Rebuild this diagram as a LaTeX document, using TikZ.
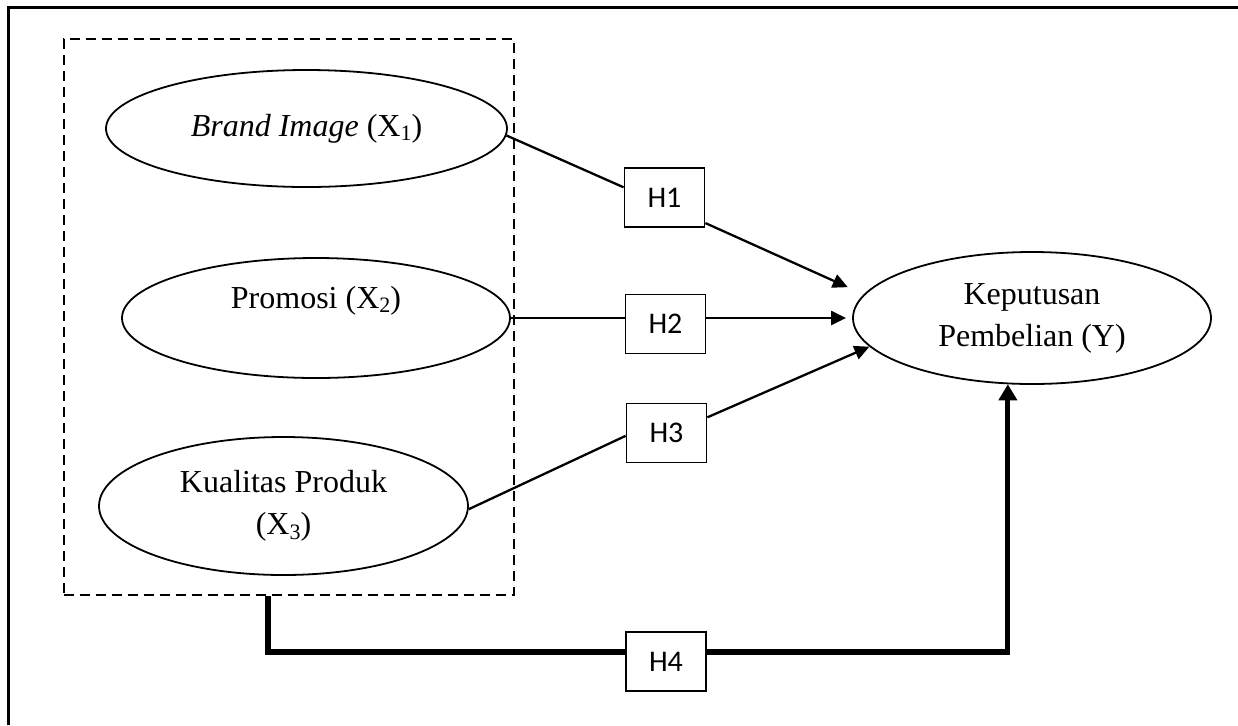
\documentclass[tikz,border=0pt]{standalone}
\usepackage{fontspec}
\setmainfont{Liberation Serif}
\newfontfamily\hfont{Carlito}
\usetikzlibrary{arrows.meta,calc,shapes.geometric}
\newcommand{\lowsub}[1]{\raisebox{-0.3ex}{\fontsize{11}{11}\selectfont #1}}
\tikzset{
  var/.style={ellipse, draw, line width=0.9pt, align=center, inner sep=0pt,
    font=\fontsize{16}{21}\selectfont},
  hyp/.style={rectangle, draw, line width=0.9pt, minimum width=40pt, minimum height=29.5pt,
    inner sep=0pt, font=\hfont\fontsize{15}{18}\selectfont},
  link/.style={line width=1.15pt},
  tip/.style={-{Triangle[length=7.5pt,width=7pt]}},
  bold link/.style={line width=2.6pt},
  grouping/.style={draw, line width=1.2pt, dash pattern=on 5pt off 3pt, inner sep=0pt}
}
\begin{document}
\begin{tikzpicture}[x=0.5pt,y=-0.5pt]
\useasboundingbox (0,0) rectangle (1238,725);
% frame (top and left edges)
\draw[line width=1.5pt] (8,725) -- (8,7) -- (1238,7);
% independent variables group
\node[grouping, minimum width=225pt, minimum height=278pt] (grp) at (289,317) {};
\node[var, minimum width=200.5pt, minimum height=58.5pt] (e1) at (306.5,128.5) {\textit{Brand Image} (X\lowsub{1})};
\node[var, minimum width=194pt, minimum height=60pt] (e2) at (316,318) {Promosi (X\lowsub{2})\\\mbox{}};
\node[var, minimum width=184.5pt, minimum height=69pt] (e3) at (283.5,506) {Kualitas Produk\\(X\lowsub{3})};
% dependent variable
\node[var, minimum width=179pt, minimum height=66pt] (y) at (1032,318) {Keputusan\\Pembelian (Y)};
% hypothesis boxes
\node[hyp] (h1) at (664.5,197.5) {H1};
\node[hyp] (h2) at (665.5,324) {H2};
\node[hyp] (h3) at (666.5,433) {H3};
\node[hyp] (h4) at (666,661.5) {H4};
% H1
\draw[link] (e1.-2) -- (h1.166);
\draw[link,tip,shorten >=8.75pt] (h1.-32.5) -- (y.172);
% H2
\draw[link] (e2.east) -- (e2.east -| h2.west);
\draw[link,tip,shorten >=3pt] (e2.east -| h2.east) -- (y.west);
% H3
\draw[link] (e3.-1) -- (h3.184);
\draw[link,tip] (h3.21) -- (y.190);
% H4 (simultaneous effect)
\draw[bold link] ($(grp.south)+(-21,0)$) |- ($(h4.west)+(0,-9.5)$);
\draw[bold link,-{Triangle[length=8pt,width=9pt]}]
  ($(h4.east)+(0,-9.5)$) -| (y.-110);
\end{tikzpicture}
\end{document}
